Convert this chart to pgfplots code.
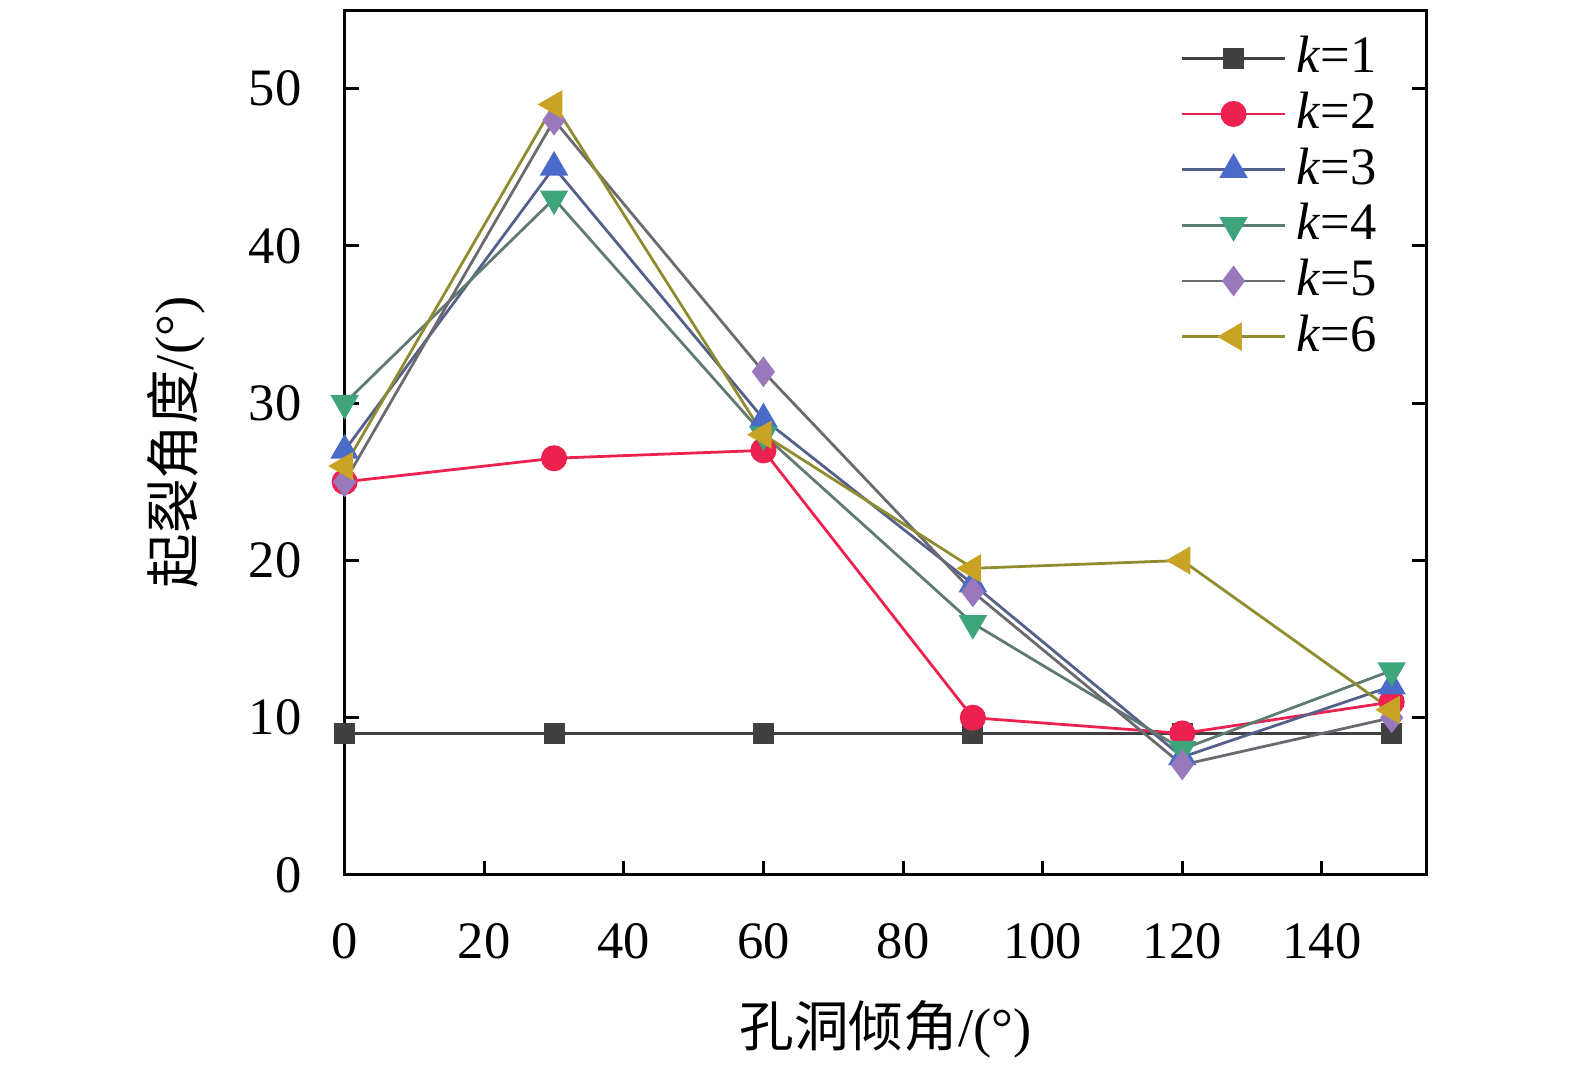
\documentclass[border=0pt]{standalone}
\usepackage{pgfplots}
\pgfplotsset{compat=1.18}
\usepackage{fontspec}
\setmainfont{Liberation Serif}
\newfontfamily\cjk{Noto Sans CJK SC}
\definecolor{c1}{HTML}{404040}
\definecolor{c2}{HTML}{EC2150}
\definecolor{c3}{HTML}{4A6CC8}
\definecolor{c4}{HTML}{3DA47C}
\definecolor{c5}{HTML}{9A78BC}
\definecolor{c6}{HTML}{C9A424}
\definecolor{l3}{HTML}{55608A}
\definecolor{l4}{HTML}{5F7A70}
\definecolor{l5}{HTML}{6A6A70}
\definecolor{l6}{HTML}{8E8C2E}
\begin{document}
\begin{tikzpicture}
\useasboundingbox (-2.396cm,-1.375cm) rectangle (8.554cm,6.083cm);
\begin{pgfinterruptboundingbox}
\begin{axis}[
  scale only axis, width=7.522cm, height=6.013cm,
  xmin=0, xmax=155, ymin=0, ymax=55,
  xtick={0,20,...,140}, ytick={0,10,...,50},
  xtick pos=bottom, ytick pos=both,
  tick align=inside, major tick length=0.1cm,
  axis line style={line width=0.6pt},
  tick style={line width=0.6pt, black},
  /pgf/number format/assume math mode=true,
  tick label style={font=\fontsize{10.4pt}{12pt}\selectfont},
  xticklabel style={yshift=-6pt},
  yticklabel style={xshift=-5pt},
  xlabel={{\cjk 孔洞倾角}/(°)},
  ylabel={{\cjk 起裂角度}/(°)},
  label style={font=\fontsize{10.8pt}{13pt}\selectfont},
  xlabel style={at={(axis description cs:0.5,-0.179)}, anchor=center},
  ylabel style={at={(axis description cs:-0.156,0.5)}, anchor=center, rotate=0},
  legend style={at={(axis description cs:0.969,0.9885)}, anchor=north east, draw=none, fill=none,
    font=\fontsize{10.4pt}{12pt}\selectfont, row sep=-1.7pt, inner sep=1pt},
  legend cell align=left,
  legend image code/.code={\draw[mark repeat=2,mark phase=2,#1] plot coordinates {(0cm,0cm)(0.36cm,0cm)(0.72cm,0cm)};},
  every axis plot/.append style={line width=0.55pt},
]
\addplot[color=c1, mark=square*, mark size=1.8pt, mark options={fill=c1}] coordinates {(0,9)(30,9)(60,9)(90,9)(120,9)(150,9)};
\addlegendentry{\textit{k}=1}
\addplot[color=c2, mark=*, mark size=2.3pt, mark options={fill=c2, draw=c2}] coordinates {(0,25)(30,26.5)(60,27)(90,10)(120,9)(150,11)};
\addlegendentry{\textit{k}=2}
\addplot[color=l3, mark=triangle*, mark size=2.7pt, mark options={fill=c3, draw=c3}] coordinates {(0,27)(30,45)(60,29)(90,18.5)(120,7.5)(150,12)};
\addlegendentry{\textit{k}=3}
\addplot[color=l4, mark=triangle*, mark size=2.7pt, mark options={fill=c4, draw=c4, rotate=180}] coordinates {(0,30)(30,43)(60,28)(90,16)(120,8)(150,13)};
\addlegendentry{\textit{k}=4}
\addplot[color=l5, mark=diamond*, mark size=2.6pt, mark options={fill=c5, draw=c5}] coordinates {(0,25)(30,48)(60,32)(90,18)(120,7)(150,10)};
\addlegendentry{\textit{k}=5}
\addplot[color=l6, mark=triangle*, mark size=2.7pt, mark options={fill=c6, draw=c6, rotate=90}] coordinates {(0,26)(30,49)(60,28)(90,19.5)(120,20)(150,10.5)};
\addlegendentry{\textit{k}=6}
\end{axis}
\end{pgfinterruptboundingbox}
\end{tikzpicture}
\end{document}
